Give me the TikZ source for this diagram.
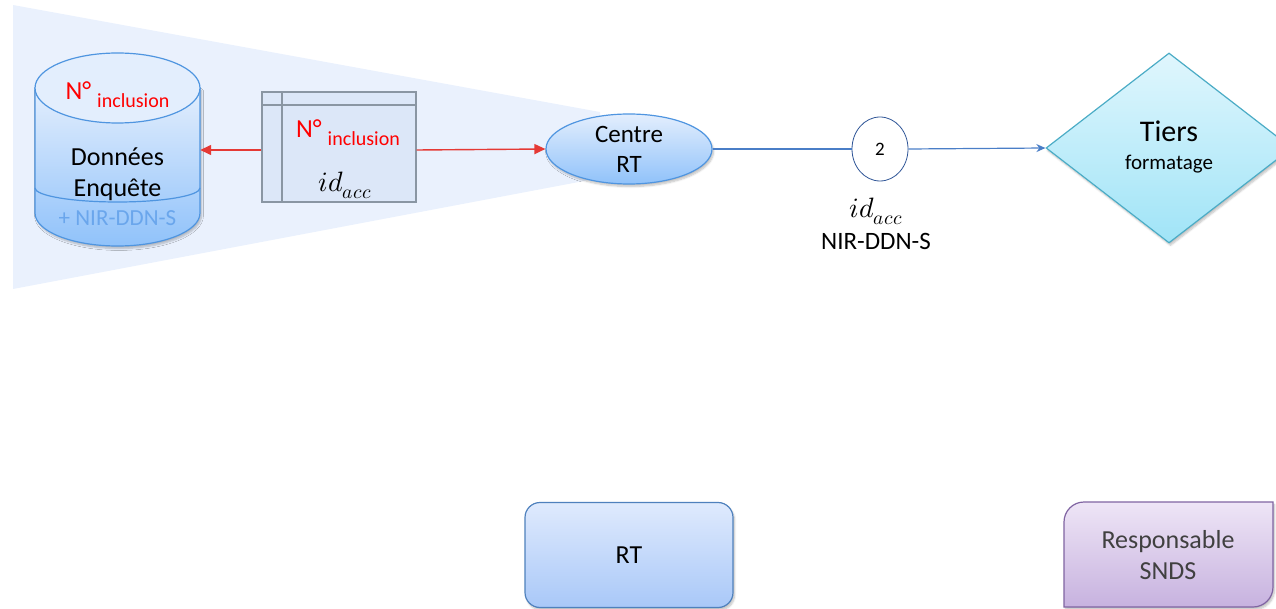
\documentclass[tikz,border=0pt]{standalone}
\usepackage{fontspec}
\usepackage{unicode-math}
\setmainfont{Carlito}
\setmathfont{Latin Modern Math}
\usetikzlibrary{shapes.geometric,arrows.meta,shadows.blur}
\definecolor{trap}{HTML}{EAF1FD}
\definecolor{cylbd}{HTML}{4F95E0}
\definecolor{cyltop}{HTML}{E3EEFD}
\definecolor{cylbot}{HTML}{90C2FA}
\definecolor{redtxt}{HTML}{FF0000}
\definecolor{redarr}{HTML}{E53935}
\definecolor{linkblue}{HTML}{4A7EC7}
\definecolor{circbd}{HTML}{2F5597}
\definecolor{diatop}{HTML}{E0F6FD}
\definecolor{diabot}{HTML}{A0E4F7}
\definecolor{diabd}{HTML}{4BACC6}
\definecolor{rttop}{HTML}{DFEAFD}
\definecolor{rtbot}{HTML}{A9C8F8}
\definecolor{rtbd}{HTML}{4F81BD}
\definecolor{sndstop}{HTML}{EEE5F6}
\definecolor{sndsbot}{HTML}{C7B2DF}
\definecolor{sndsbd}{HTML}{8064A2}
\definecolor{tabfill}{HTML}{DCE7F8}
\definecolor{tabbd}{HTML}{8A96A3}
\definecolor{nirblue}{HTML}{6AA6EC}
\newcommand{\ninc}{{\fontsize{26}{31}\selectfont N°}\hspace{6pt}\raisebox{-8pt}{\fontsize{20}{24}\selectfont inclusion}}
\tikzset{
  softshadow/.style={blur shadow={shadow xshift=1.5pt,shadow yshift=-2.5pt,shadow blur steps=6,shadow opacity=25}},
  redlink/.style={draw=redarr,line width=1.4pt,-{Triangle[length=11pt,width=10pt]}},
  bluelink/.style={draw=linkblue,line width=1.2pt},
  bluearrow/.style={bluelink,-{Stealth[length=9pt,width=8pt]}},
  txt/.style={inner sep=0pt,anchor=base},
  big/.style={font=\fontsize{26}{31}\selectfont}
}
\begin{document}
\begin{tikzpicture}[x=1pt,y=1pt]
\useasboundingbox (0,0) rectangle (1276,-609);
\clip (0,0) rectangle (1276,-609);
% background trapezoid
\fill[trap] (13,-5) -- (600,-112) -- (600,-178) -- (13,-289) -- cycle;
% cylinder
\path[softshadow,top color=cyltop,bottom color=cylbot,draw=cylbd,line width=1.2pt]
  (35,-88) -- (35,-213) arc[start angle=180,end angle=360,x radius=82.5,y radius=33] -- (200,-88) -- cycle;
\draw[cylbd,line width=1.2pt] (35,-188) arc[start angle=180,end angle=360,x radius=82.5,y radius=14];
\draw[cylbd,line width=1.2pt,fill=cyltop] (117.5,-88) ellipse[x radius=82.5,y radius=35];
\node[inner sep=0pt,minimum width=165pt,minimum height=160pt] (db) at (117.5,-149) {};
\node[txt,text=redtxt] (dbn) at (117.5,-100) {\ninc};
\node[txt,big] (dbd) at (117.5,-166) {Données};
\node[txt,big] (dbe) at (117.5,-197) {Enquête};
\node[txt,text=nirblue,font=\fontsize{23}{28}\selectfont] (dbnir) at (117.5,-226) {+ NIR-DDN-S};
% table
\node[draw=tabbd,fill=tabfill,line width=1.4pt,minimum width=154pt,minimum height=110pt,inner sep=0pt] (tab) at (339,-147) {};
\draw[tabbd,line width=1.4pt] (262,-105) -- (416,-105);
\draw[tabbd,line width=1.4pt] (282,-92) -- (282,-202);
\node[txt,text=redtxt] (tabn) at (348,-138) {\ninc};
\node[txt,font=\fontsize{28}{33}\selectfont] (tabid) at (345,-192) {$id_{acc}$};
% centre RT
\node[ellipse,softshadow,draw=cylbd,line width=1.2pt,top color=cyltop,bottom color=cylbot,minimum width=166pt,minimum height=70pt,inner sep=0pt,align=center,font=\fontsize{25}{30}\selectfont] (centre) at (629,-149) {Centre\\RT};
% circle 2
\node[ellipse,draw=circbd,line width=0.8pt,fill=white,minimum width=56pt,minimum height=64pt,inner sep=0pt,font=\fontsize{19}{23}\selectfont] (c2) at (880,-149) {2};
% Tiers diamond
\node[diamond,softshadow,draw=diabd,line width=1.2pt,top color=diatop,bottom color=diabot,minimum width=246pt,minimum height=190pt,inner sep=0pt] (tiers) at (1169,-148) {};
\node[txt,font=\fontsize{30}{36}\selectfont] (tiersT) at (1169,-142) {Tiers};
\node[txt,font=\fontsize{21}{25}\selectfont] (tiersF) at (1169,-170) {formatage};
% labels under circle
\node[txt,font=\fontsize{28}{33}\selectfont] (lid) at (876,-218) {$id_{acc}$};
\node[txt,font=\fontsize{25}{30}\selectfont] (lnir) at (876,-250) {NIR-DDN-S};
% connectors
\draw[redlink] (tab.west |- 0,-150) -- (db.east |- 0,-150);
\draw[redlink] (tab.east |- 0,-150) -- (centre.west);
\draw[bluelink] (centre.east) -- (c2.west);
\draw[bluearrow] (c2.east) -- (tiers.west);
% RT box
\node[softshadow,rounded corners=15pt,draw=rtbd,line width=1.2pt,top color=rttop,bottom color=rtbot,minimum width=208pt,minimum height=105pt,inner sep=0pt,font=\fontsize{26}{31}\selectfont] (rt) at (629,-555) {RT};
% Responsable SNDS
\path[softshadow,draw=sndsbd,line width=1.2pt,top color=sndstop,bottom color=sndsbot]
  (1064,-607) -- (1064,-522) arc[start angle=180,end angle=90,radius=20] -- (1273,-502) -- (1273,-587) arc[start angle=0,end angle=-90,radius=20] -- cycle;
\node[align=center,text=black!75,inner sep=0pt,font=\fontsize{26}{31}\selectfont] (snds) at (1168,-555) {Responsable\\SNDS};
\end{tikzpicture}
\end{document}
